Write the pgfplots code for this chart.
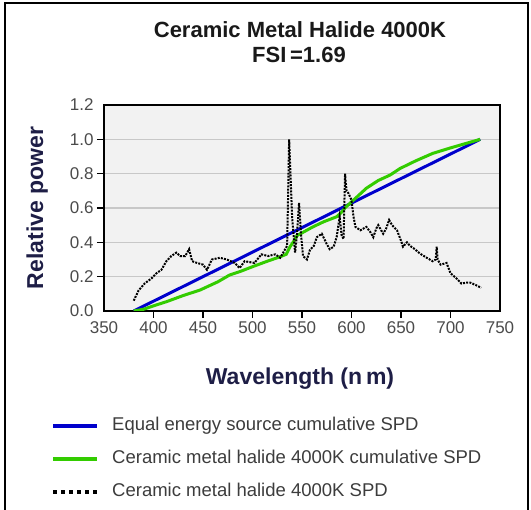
\documentclass[border=0pt]{standalone}
\usepackage{fontspec}
\setmainfont{Liberation Sans}
\usepackage{pgfplots}
\pgfplotsset{compat=1.18}
\definecolor{eqblue}{RGB}{0,0,204}
\definecolor{cmgreen}{RGB}{51,204,0}
\definecolor{navy}{RGB}{30,30,70}
\definecolor{tickgray}{RGB}{75,75,75}
\definecolor{leggray}{RGB}{60,60,60}
\definecolor{gridgray}{RGB}{200,200,200}
\definecolor{bggray}{RGB}{242,242,242}
\begin{document}
\begin{tikzpicture}[x=1pt,y=1pt]
\path[use as bounding box] (0,0) rectangle (531,510);
\draw[line width=2pt,black] (5,0) -- (5,507) -- (528,507) -- (528,0);
\node[anchor=base,font=\bfseries\fontsize{22}{22}\selectfont,text=black!90] at (300,472) {Ceramic Metal Halide 4000K};
\node[anchor=base,font=\bfseries\fontsize{22}{22}\selectfont,text=black!90] at (299,447) {FSI\,=1.69};
\begin{axis}[
  at={(104pt,199pt)}, anchor=south west,
  scale only axis, width=396pt, height=206pt,
  xmin=350, xmax=750, ymin=0, ymax=1.2,
  xtick={400,450,...,700},
  extra x ticks={350,750},
  extra x tick style={tick style={draw=none}},
  ytick={0.2,0.4,0.6,0.8,1.0},
  extra y ticks={0,1.2},
  extra y tick style={tick style={draw=none}, grid=none},
  ymajorgrids,
  major grid style={gridgray, line width=1.5pt},
  axis line style={line width=1.6pt, black},
  axis background/.style={fill=bggray},
  tick align=outside,
  major tick length=7pt,
  tick style={line width=1.5pt, black},
  xtick pos=bottom, ytick pos=left,
  /pgf/number format/assume math mode=true,
  ticklabel style={font=\fontsize{17}{17}\selectfont, text=tickgray},
  yticklabel style={/pgf/number format/.cd, fixed, fixed zerofill, precision=1},
  xticklabel style={/pgf/number format/.cd, fixed, 1000 sep={}},
  xlabel={Wavelength (n\,m)},
  ylabel={Relative power},
  label style={font=\bfseries\fontsize{23}{23}\selectfont, text=navy},
  xlabel style={at={(axis description cs:0.495,-0.359)}, anchor=base},
  ylabel style={at={(axis description cs:-0.169,0.5)}, anchor=center},
  legend style={draw=none, fill=none, inner sep=0pt,
    at={(axis description cs:-0.1338,-0.515)}, anchor=north west,
    font=\fontsize{18.5}{18.5}\selectfont, text=leggray,
    row sep=16pt, column sep=13pt,
    nodes={inner sep=0pt, text height=13pt, text depth=4pt}},
  legend cell align=left,
  legend image code/.code={\draw[#1] (0pt,0pt) -- (44pt,0pt);},
]
\addplot[eqblue, line width=3pt, legend image post style={line width=4pt}] coordinates {(380,0) (730,1.0)};
\addlegendentry{Equal energy source cumulative SPD}
\addplot[cmgreen, line width=3pt, legend image post style={line width=4pt}] coordinates {
(380,0) (390,0.01) (400,0.03) (413,0.054) (430,0.09) (447,0.122) (465,0.17)
(477,0.21) (487,0.229) (500,0.258) (515,0.29) (528,0.316) (534,0.33)
(538,0.375) (541,0.40) (545,0.44) (550,0.455) (561,0.49) (572,0.52)
(585,0.549) (590,0.575) (594,0.604) (602,0.646) (615,0.715) (627,0.76)
(639,0.792) (649,0.83) (665,0.875) (682,0.918) (700,0.95) (715,0.975) (730,1.0)};
\addlegendentry{Ceramic metal halide 4000K cumulative SPD}
\addplot[black, line width=2pt, dash pattern=on 2pt off 1.2pt,
  legend image post style={line width=4pt, dash pattern=on 4pt off 4pt}] coordinates {
(380,0.06) (385,0.12) (391,0.16) (398,0.19) (403,0.22) (408,0.24) (413,0.29)
(418,0.32) (423,0.34) (427,0.32) (432,0.32) (436,0.36) (439,0.29) (444,0.28)
(450,0.27) (454,0.24) (459,0.30) (467,0.31) (474,0.30) (482,0.28) (487,0.25)
(492,0.29) (502,0.28) (509,0.33) (516,0.32) (523,0.33) (528,0.31) (531,0.34)
(535,0.38) (537,1.00) (540,0.55) (543,0.34) (545,0.45) (547,0.63) (549,0.45)
(551,0.32) (555,0.30) (558,0.355) (562,0.38) (565,0.43) (570,0.45) (575,0.39)
(578,0.36) (582,0.375) (585,0.43) (588,0.55) (590,0.44) (592,0.42) (593.5,0.80)
(595,0.70) (597,0.685) (600,0.646) (602,0.55) (604,0.49) (609,0.47) (612,0.48)
(615,0.49) (619,0.46) (622,0.43) (625,0.48) (627,0.50) (630,0.47) (632,0.45)
(635,0.48) (638,0.53) (641,0.50) (646,0.47) (650,0.41) (652,0.375) (656,0.40)
(659,0.38) (664,0.36) (669,0.335) (676,0.31) (682,0.29) (685,0.30) (686,0.375)
(687,0.30) (690,0.27) (696,0.28) (698,0.25) (700,0.22) (706,0.19) (711,0.16)
(716,0.165) (720,0.165) (726,0.15) (731,0.135)};
\addlegendentry{Ceramic metal halide 4000K SPD}
\end{axis}
\end{tikzpicture}
\end{document}
